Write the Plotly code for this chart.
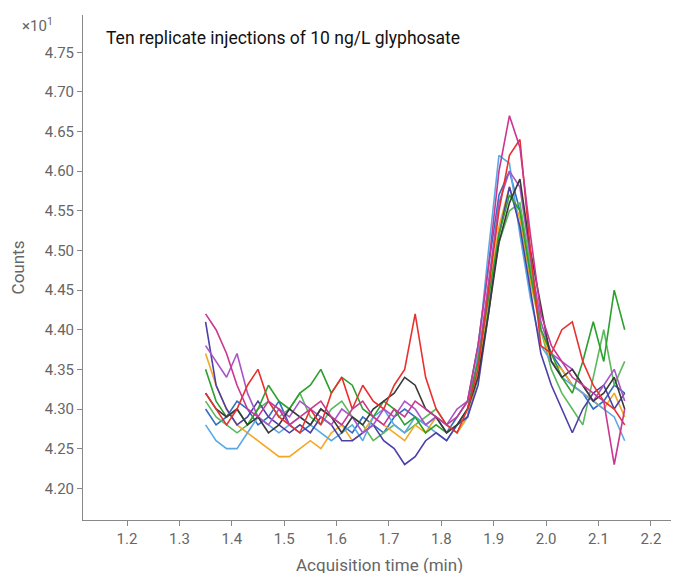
import numpy as np
import plotly.graph_objects as go

# acquisition time, min (1.35 .. 2.15, step 0.02)
time_min = np.round(np.arange(1.35, 2.1501, 0.02), 2)

magenta = [4.42,4.40,4.37,4.33,4.30,4.29,4.31,4.30,4.28,4.29,
           4.30,4.31,4.29,4.28,4.30,4.31,4.29,4.28,4.30,4.29,
           4.31,4.30,4.29,4.28,4.29,4.31,4.38,4.48,4.60,4.67,
           4.63,4.52,4.42,4.38,4.36,4.34,4.33,4.32,4.31,4.23,4.30]
red = [4.32,4.30,4.28,4.30,4.33,4.35,4.31,4.29,4.28,4.27,
       4.30,4.28,4.32,4.34,4.30,4.33,4.31,4.30,4.33,4.35,
       4.42,4.34,4.30,4.28,4.27,4.30,4.35,4.45,4.55,4.62,
       4.64,4.50,4.38,4.37,4.40,4.41,4.36,4.33,4.31,4.30,4.28]
green = [4.35,4.31,4.29,4.30,4.28,4.30,4.33,4.31,4.30,4.32,
         4.33,4.35,4.32,4.34,4.33,4.30,4.29,4.31,4.30,4.28,
         4.29,4.27,4.28,4.27,4.28,4.30,4.36,4.44,4.52,4.57,
         4.55,4.47,4.40,4.37,4.34,4.32,4.36,4.41,4.36,4.45,4.40]
orange = [4.37,4.33,4.30,4.28,4.27,4.26,4.25,4.24,4.24,4.25,
          4.26,4.25,4.27,4.28,4.26,4.27,4.29,4.28,4.27,4.26,
          4.28,4.27,4.29,4.28,4.27,4.29,4.35,4.44,4.53,4.58,
          4.54,4.46,4.40,4.36,4.35,4.33,4.32,4.31,4.30,4.32,4.29]
lightblue = [4.28,4.26,4.25,4.25,4.27,4.29,4.28,4.27,4.28,4.29,
             4.28,4.27,4.26,4.27,4.28,4.26,4.29,4.30,4.28,4.27,
             4.29,4.28,4.27,4.26,4.28,4.29,4.37,4.50,4.62,4.61,
             4.52,4.44,4.38,4.36,4.34,4.33,4.32,4.31,4.30,4.29,4.26]
indigo = [4.41,4.33,4.30,4.28,4.29,4.31,4.29,4.28,4.27,4.28,
          4.27,4.29,4.28,4.26,4.26,4.27,4.28,4.26,4.25,4.23,
          4.24,4.26,4.27,4.26,4.28,4.29,4.33,4.42,4.52,4.58,
          4.53,4.45,4.37,4.33,4.30,4.27,4.30,4.32,4.33,4.30,4.32]
darkgray = [4.32,4.30,4.29,4.30,4.28,4.29,4.27,4.28,4.30,4.29,
            4.28,4.30,4.29,4.27,4.29,4.28,4.30,4.31,4.32,4.34,
            4.33,4.30,4.29,4.27,4.28,4.30,4.34,4.42,4.51,4.56,
            4.59,4.50,4.43,4.36,4.34,4.35,4.33,4.31,4.32,4.34,4.30]
purple = [4.38,4.36,4.34,4.37,4.32,4.29,4.28,4.30,4.29,4.31,
          4.30,4.29,4.28,4.30,4.29,4.27,4.28,4.30,4.29,4.31,
          4.30,4.28,4.29,4.28,4.30,4.31,4.36,4.46,4.56,4.60,
          4.58,4.49,4.41,4.37,4.36,4.35,4.33,4.31,4.33,4.35,4.31]
green2 = [4.31,4.29,4.28,4.27,4.28,4.30,4.31,4.29,4.30,4.32,
          4.29,4.28,4.30,4.31,4.29,4.28,4.26,4.27,4.28,4.27,
          4.28,4.29,4.30,4.28,4.27,4.29,4.34,4.43,4.51,4.55,
          4.56,4.48,4.40,4.35,4.32,4.30,4.28,4.34,4.40,4.33,4.36]
blue = [4.30,4.28,4.29,4.31,4.30,4.28,4.29,4.31,4.28,4.27,
        4.28,4.30,4.29,4.28,4.27,4.29,4.28,4.27,4.29,4.30,
        4.29,4.28,4.29,4.27,4.29,4.31,4.38,4.48,4.57,4.60,
        4.55,4.47,4.40,4.37,4.35,4.33,4.32,4.30,4.31,4.33,4.32]

series = [
    (blue, "#2f6fc0"), (green2, "#5cb85c"), (orange, "#f5a623"),
    (lightblue, "#5aa9e6"), (indigo, "#4b3fa8"), (purple, "#a855c8"),
    (green, "#2ca02c"), (darkgray, "#3a3a3a"), (red, "#e8312f"),
    (magenta, "#c9378f"),
]

fig = go.Figure()
for vals, col in series:
    fig.add_trace(go.Scatter(x=time_min, y=vals, mode="lines",
                             line=dict(color=col, width=1.6), showlegend=False))

axis_style = dict(showline=True, linecolor="#888", linewidth=1, ticks="outside",
                  tickcolor="#888", ticklen=5, showgrid=False, zeroline=False, automargin=False,
                  tickfont=dict(color="#666", size=15), title_font=dict(color="#666", size=17))

fig.update_xaxes(range=[1.116, 2.246], tickvals=[1.2,1.3,1.4,1.5,1.6,1.7,1.8,1.9,2.0,2.1,2.2],
                 tickformat=".1f", **axis_style)
fig.update_yaxes(range=[4.16, 4.797], tickvals=[4.20,4.25,4.30,4.35,4.40,4.45,4.50,4.55,4.60,4.65,4.70,4.75],
                 tickformat=".2f", title_text="Counts", **axis_style)

# x axis title as annotation (axis title would collide with tick labels without automargin)
fig.add_annotation(xref="paper", yref="paper", x=0.5, y=-0.089, xanchor="center", yanchor="middle",
                   text="Acquisition time (min)", showarrow=False, font=dict(size=17, color="#666"))
fig.add_annotation(xref="paper", yref="paper", x=0.035, y=0.955, xanchor="left", yanchor="middle",
                   text="Ten replicate injections of 10 ng/L glyphosate", showarrow=False,
                   font=dict(size=17.5, color="#111"))
fig.add_annotation(xref="paper", yref="paper", x=-0.047, y=1.0, xanchor="right", yanchor="top",
                   yshift=2, text="×10<sup>1</sup>", showarrow=False, font=dict(size=15, color="#666"))

fig.update_layout(width=667, height=565, margin=dict(l=75, r=0, t=7, b=53),
                  plot_bgcolor="white", paper_bgcolor="white",
                  font=dict(family="Roboto, sans-serif"))
fig.write_html("out.html")
